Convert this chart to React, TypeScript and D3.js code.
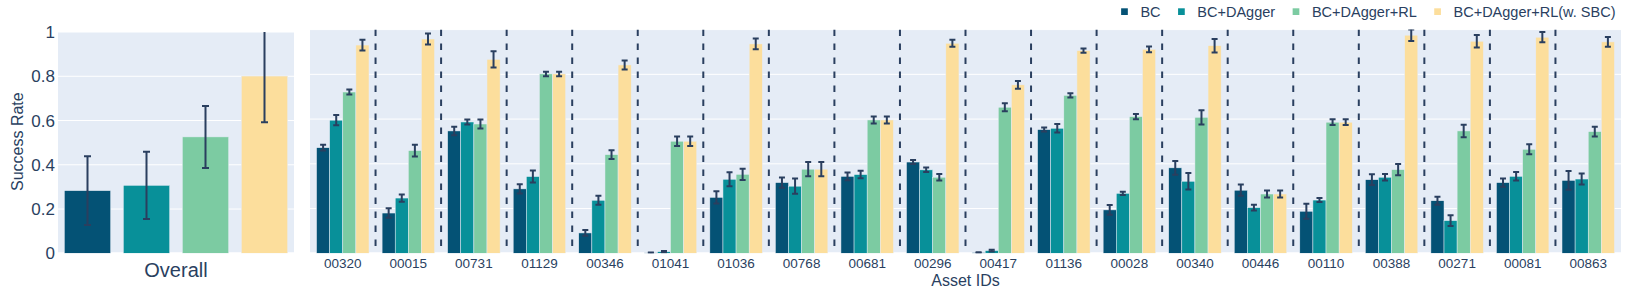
import React from "react";
import { scaleBand, scaleLinear } from "d3";

// series
const seriesNames = ["BC", "BC+DAgger", "BC+DAgger+RL", "BC+DAgger+RL(w. SBC)"];
const seriesColors = ["#045275", "#089099", "#7CCBA2", "#FCDE9C"];

// overall panel
const overallMean = [0.283, 0.307, 0.526, 0.801];
const overallErr = [0.155, 0.152, 0.14, 0.209];

// per-asset panel
const assetIds = [
  "00320", "00015", "00731", "01129", "00346", "01041", "01036", "00768", "00681", "00296",
  "00417", "01136", "00028", "00340", "00446", "00110", "00388", "00271", "00081", "00863",
];
const bcMean = [0.472, 0.18, 0.547, 0.288, 0.091, 0.002, 0.25, 0.316, 0.344, 0.408, 0.003, 0.553, 0.194, 0.382, 0.282, 0.188, 0.329, 0.235, 0.316, 0.326];
const bcErr = [0.013, 0.021, 0.019, 0.021, 0.013, 0.002, 0.027, 0.023, 0.017, 0.009, 0.002, 0.009, 0.022, 0.031, 0.025, 0.033, 0.024, 0.018, 0.018, 0.042];
const daggerMean = [0.595, 0.247, 0.587, 0.343, 0.237, 0.007, 0.331, 0.3, 0.352, 0.373, 0.012, 0.559, 0.268, 0.322, 0.204, 0.238, 0.34, 0.146, 0.344, 0.332];
const daggerErr = [0.023, 0.016, 0.011, 0.027, 0.02, 0.003, 0.031, 0.034, 0.017, 0.01, 0.004, 0.019, 0.007, 0.037, 0.013, 0.009, 0.015, 0.024, 0.019, 0.025];
const rlMean = [0.721, 0.459, 0.578, 0.802, 0.441, 0.501, 0.353, 0.376, 0.596, 0.34, 0.653, 0.706, 0.611, 0.608, 0.265, 0.586, 0.374, 0.547, 0.465, 0.544];
const rlErr = [0.011, 0.026, 0.02, 0.01, 0.02, 0.021, 0.025, 0.032, 0.016, 0.015, 0.018, 0.01, 0.012, 0.032, 0.016, 0.013, 0.025, 0.028, 0.022, 0.022];
const sbcMean = [0.931, 0.958, 0.867, 0.802, 0.842, 0.501, 0.936, 0.376, 0.596, 0.939, 0.753, 0.906, 0.912, 0.928, 0.265, 0.586, 0.975, 0.948, 0.966, 0.945];
const sbcErr = [0.024, 0.025, 0.036, 0.01, 0.02, 0.021, 0.024, 0.032, 0.016, 0.016, 0.017, 0.01, 0.013, 0.03, 0.016, 0.013, 0.026, 0.028, 0.023, 0.022];

const yTicks = [0, 0.2, 0.4, 0.6, 0.8, 1];

const W = 1627;
const H = 290;
const FONT = "'Liberation Sans', Arial, sans-serif";
const INK = "#2a3f5f";
const BG = "#E5ECF6";

const means = [bcMean, daggerMean, rlMean, sbcMean];
const errs = [bcErr, daggerErr, rlErr, sbcErr];

function measure(text: string, size: number) {
  const ctx = document.createElement("canvas").getContext("2d");
  if (!ctx) return text.length * size * 0.55;
  ctx.font = `${size}px ${FONT}`;
  return ctx.measureText(text).width;
}

function ErrorBar({ x, y0, y1, cap }: { x: number; y0: number; y1: number; cap: number }) {
  return (
    <g stroke={INK} strokeWidth={2}>
      <line x1={x} x2={x} y1={y0} y2={y1} />
      <line x1={x - cap} x2={x + cap} y1={y0} y2={y0} />
      <line x1={x - cap} x2={x + cap} y1={y1} y2={y1} />
    </g>
  );
}

export default function App() {
  const bottom = 253.3;

  // left panel
  const lx = scaleBand<string>().domain(seriesNames).range([58, 294]).paddingInner(0.215).paddingOuter(0.1075);
  const ly = scaleLinear().domain([0, 1]).range([bottom, 32]);

  // right panel
  const rx = scaleBand<string>().domain(assetIds).range([310, 1621]).padding(0);
  const inner = scaleBand<string>().domain(seriesNames).range([0, rx.bandwidth()]).paddingInner(0).paddingOuter(0.5);
  const ry = scaleLinear().domain([0, 1]).range([bottom, 29.6]);

  // legend layout, right aligned
  const legendSize = 14.5;
  const widths = seriesNames.map((s) => measure(s, legendSize));
  const legendEnd = 1615.5;
  const itemGap = 17.5;
  const boxToText = 19.3;
  const legendX: number[] = [];
  let cursor = legendEnd;
  for (let i = seriesNames.length - 1; i >= 0; i--) {
    cursor -= widths[i] + boxToText;
    legendX[i] = cursor;
    cursor -= itemGap;
  }

  return (
    <svg
      width={W}
      height={H}
      style={{ position: "absolute", left: 0, top: 0, background: "#fff" }}
      fontFamily={FONT}
    >
      <defs>
        <clipPath id="clipL">
          <rect x={58} y={32} width={236} height={bottom - 32} />
        </clipPath>
        <clipPath id="clipR">
          <rect x={310} y={29.6} width={1311} height={bottom - 29.6} />
        </clipPath>
      </defs>

      {/* left panel */}
      <rect x={58} y={32} width={236} height={bottom - 32} fill={BG} />
      {yTicks.slice(1).map((t) => (
        <line key={t} x1={58} x2={294} y1={ly(t)} y2={ly(t)} stroke="#fff" strokeWidth={1} />
      ))}
      <line x1={58} x2={294} y1={ly(0)} y2={ly(0)} stroke="#fff" strokeWidth={2} />
      {yTicks.map((t) => (
        <text key={t} x={55} y={ly(t)} dy="0.36em" textAnchor="end" fontSize={17} fill={INK}>
          {t === 0 || t === 1 ? String(t) : t.toFixed(1)}
        </text>
      ))}
      <text
        transform={`translate(17,${(32 + bottom) / 2 - 1}) rotate(-90)`}
        textAnchor="middle"
        dy="0.35em"
        fontSize={16}
        fill={INK}
      >
        Success Rate
      </text>
      <g clipPath="url(#clipL)">
        {seriesNames.map((s, i) => (
          <rect
            key={s}
            x={lx(s)}
            y={ly(overallMean[i])}
            width={lx.bandwidth()}
            height={ly(0) - ly(overallMean[i])}
            fill={seriesColors[i]}
            stroke={BG}
            strokeWidth={0.5}
          />
        ))}
        {seriesNames.map((s, i) => (
          <ErrorBar
            key={s}
            x={(lx(s) ?? 0) + lx.bandwidth() / 2}
            y0={ly(overallMean[i] + overallErr[i])}
            y1={ly(overallMean[i] - overallErr[i])}
            cap={3.5}
          />
        ))}
      </g>
      <text x={(58 + 294) / 2} y={277} textAnchor="middle" fontSize={20} fill={INK}>
        Overall
      </text>

      {/* right panel */}
      <rect x={310} y={29.6} width={1311} height={bottom - 29.6} fill={BG} />
      {yTicks.slice(1).map((t) => (
        <line key={t} x1={310} x2={1621} y1={ry(t)} y2={ry(t)} stroke="#fff" strokeWidth={1} />
      ))}
      <line x1={310} x2={1621} y1={ry(0)} y2={ry(0)} stroke="#fff" strokeWidth={2} />
      <g clipPath="url(#clipR)">
        {assetIds.slice(1).map((id) => (
          <line
            key={id}
            x1={rx(id)}
            x2={rx(id)}
            y1={ry(1)}
            y2={bottom}
            stroke={INK}
            strokeWidth={2}
            strokeDasharray="6.5,7.5"
          />
        ))}
        {assetIds.map((id, j) =>
          seriesNames.map((s, i) => (
            <rect
              key={id + s}
              x={(rx(id) ?? 0) + (inner(s) ?? 0)}
              y={ry(means[i][j])}
              width={inner.bandwidth()}
              height={ry(0) - ry(means[i][j])}
              fill={seriesColors[i]}
              stroke={BG}
              strokeWidth={0.5}
            />
          ))
        )}
        {assetIds.map((id, j) =>
          seriesNames.map((s, i) => (
            <ErrorBar
              key={id + s}
              x={(rx(id) ?? 0) + (inner(s) ?? 0) + inner.bandwidth() / 2}
              y0={ry(means[i][j] + errs[i][j])}
              y1={ry(Math.max(0, means[i][j] - errs[i][j]))}
              cap={3}
            />
          ))
        )}
      </g>
      {assetIds.map((id) => (
        <text
          key={id}
          x={(rx(id) ?? 0) + rx.bandwidth() / 2}
          y={268.3}
          textAnchor="middle"
          fontSize={13.5}
          fill={INK}
        >
          {id}
        </text>
      ))}
      <text x={(310 + 1621) / 2} y={285.5} textAnchor="middle" fontSize={16} fill={INK}>
        Asset IDs
      </text>

      {/* legend */}
      {seriesNames.map((s, i) => (
        <g key={s}>
          <rect x={legendX[i]} y={8.3} width={6.7} height={6.7} fill={seriesColors[i]} />
          <text x={legendX[i] + boxToText} y={17.3} fontSize={legendSize} fill={INK}>
            {s}
          </text>
        </g>
      ))}
    </svg>
  );
}
